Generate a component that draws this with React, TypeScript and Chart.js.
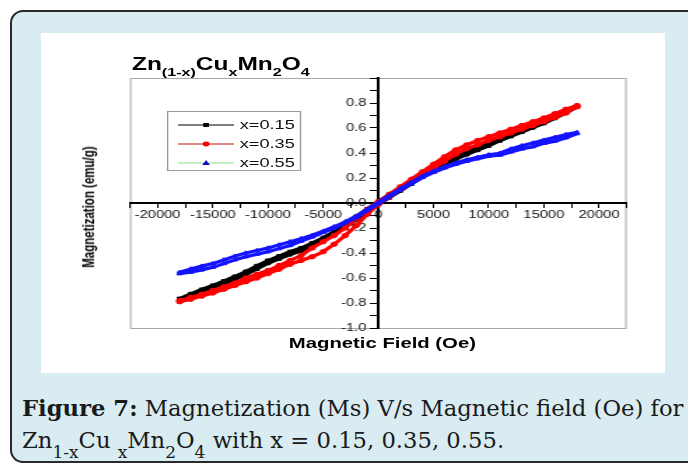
import React, { useEffect, useRef } from 'react';
import { Chart, registerables } from 'chart.js';

Chart.register(...registerables);

// ---- data ----
const seriesNames = ['x=0.15', 'x=0.35', 'x=0.55'];

// applied field, Oe: descending sweep then ascending sweep
const fieldDown = [18000, 17000, 16000, 15000, 14000, 13000, 12000, 11000, 10000, 9000, 8000, 7000, 6000, 5000, 4000, 3000, 2000, 1000, 0, -1000, -2000, -3000, -4000, -5000, -6000, -7000, -8000, -9000, -10000, -11000, -12000, -13000, -14000, -15000, -16000, -17000, -18000];
const fieldUp = [-18000, -17000, -16000, -15000, -14000, -13000, -12000, -11000, -10000, -9000, -8000, -7000, -6000, -5000, -4000, -3000, -2000, -1000, 0, 1000, 2000, 3000, 4000, 5000, 6000, 7000, 8000, 9000, 10000, 11000, 12000, 13000, 14000, 15000, 16000, 17000, 18000];

// magnetization, emu/g
const m015Down = [0.772, 0.738, 0.70, 0.662, 0.627, 0.592, 0.557, 0.522, 0.483, 0.447, 0.412, 0.372, 0.327, 0.282, 0.232, 0.177, 0.122, 0.067, 0.012, -0.048, -0.108, -0.168, -0.228, -0.278, -0.32, -0.36, -0.39, -0.425, -0.46, -0.503, -0.548, -0.588, -0.625, -0.66, -0.692, -0.727, -0.765];
const m015Up = [-0.775, -0.745, -0.71, -0.68, -0.645, -0.61, -0.572, -0.527, -0.482, -0.447, -0.412, -0.382, -0.342, -0.302, -0.252, -0.192, -0.132, -0.072, -0.012, 0.043, 0.098, 0.153, 0.208, 0.258, 0.303, 0.348, 0.388, 0.423, 0.458, 0.498, 0.533, 0.568, 0.603, 0.638, 0.678, 0.72, 0.768];

const m035Down = [0.78, 0.75, 0.715, 0.68, 0.65, 0.62, 0.59, 0.56, 0.53, 0.50, 0.465, 0.425, 0.37, 0.31, 0.25, 0.19, 0.13, 0.07, 0.01, -0.05, -0.12, -0.20, -0.26, -0.31, -0.36, -0.42, -0.46, -0.50, -0.54, -0.57, -0.60, -0.64, -0.67, -0.70, -0.73, -0.755, -0.78];
const m035Up = [-0.79, -0.77, -0.745, -0.72, -0.69, -0.66, -0.63, -0.60, -0.565, -0.53, -0.49, -0.46, -0.43, -0.39, -0.33, -0.26, -0.18, -0.09, -0.01, 0.05, 0.11, 0.17, 0.23, 0.28, 0.335, 0.39, 0.435, 0.465, 0.50, 0.53, 0.56, 0.59, 0.62, 0.65, 0.685, 0.72, 0.77];

const m055Down = [0.565, 0.548, 0.525, 0.503, 0.48, 0.458, 0.432, 0.398, 0.386, 0.366, 0.346, 0.321, 0.29, 0.255, 0.215, 0.165, 0.115, 0.06, 0.005, -0.05, -0.105, -0.15, -0.19, -0.225, -0.258, -0.285, -0.31, -0.335, -0.36, -0.38, -0.40, -0.425, -0.455, -0.485, -0.505, -0.527, -0.555];
const m055Up = [-0.565, -0.553, -0.535, -0.515, -0.485, -0.455, -0.43, -0.41, -0.39, -0.365, -0.34, -0.305, -0.272, -0.235, -0.2, -0.16, -0.115, -0.06, -0.005, 0.05, 0.105, 0.155, 0.205, 0.245, 0.28, 0.309, 0.334, 0.354, 0.374, 0.382, 0.408, 0.432, 0.45, 0.477, 0.495, 0.522, 0.555];

const xLabelValues = [-20000, -15000, -10000, -5000, 0, 5000, 10000, 15000, 20000];
const yLabelValues = [-1.0, -0.8, -0.6, -0.4, -0.2, 0.0, 0.2, 0.4, 0.6, 0.8];

// ---- styles ----
const seriesColors = ['#000000', '#ff0000', '#1414ff'];
const legendLineColors = ['#000000', '#cc1010', '#86e086'];
const pointStyles = ['rect', 'circle', 'triangle'];
const SANS = '"Liberation Sans", Arial, Helvetica, sans-serif';

const downBranches = [m015Down, m035Down, m055Down];
const upBranches = [m015Up, m035Up, m055Up];

const LOCAL_W = 446;
const LOCAL_H = 340;
const PANEL_W = 624;

const framePlugin = {
  id: 'frame',
  beforeDraw(chart: any) {
    const { ctx, chartArea } = chart;
    ctx.save();
    ctx.strokeStyle = '#a8a8a8';
    ctx.lineWidth = 1;
    ctx.strokeRect(chartArea.left + 0.5, chartArea.top + 0.5, chartArea.right - chartArea.left - 1, chartArea.bottom - chartArea.top);
    ctx.restore();
  },
};

// y-axis sits at x = 0; move its labels to the left of the tick marks
const yLabelShiftPlugin = {
  id: 'yLabelShift',
  beforeDraw(chart: any) {
    const s = chart.scales.y;
    if (!s || typeof s.getLabelItems !== 'function') return;
    const items = s.getLabelItems(chart.chartArea);
    items.forEach((it: any) => {
      if (!it.__shifted && it.options && it.options.translation) {
        it.options.translation[0] -= 8.5;
        it.__shifted = true;
      }
    });
  },
};

function LegendMarker({ i }: { i: number }) {
  const c = seriesColors[i];
  let marker;
  if (pointStyles[i] === 'rect') marker = <rect x={18} y={3} width={4} height={4} fill={c} />;
  else if (pointStyles[i] === 'circle') marker = <circle cx={20} cy={5} r={2.4} fill={c} />;
  else marker = <polygon points="20,2 22.8,7 17.2,7" fill="#1010c0" />;
  return (
    <svg width={40} height={10} style={{ position: 'absolute', left: 7, top: -5 }}>
      <line x1={0} y1={5} x2={40} y2={5} stroke={legendLineColors[i]} strokeWidth={1.2} />
      {marker}
    </svg>
  );
}

export default function App() {
  const canvasRef = useRef<HTMLCanvasElement>(null);

  useEffect(() => {
    const datasets = seriesNames.map((name, i) => ({
      label: name,
      data: fieldDown
        .map((h, k) => ({ x: h, y: downBranches[i][k] }))
        .concat(fieldUp.map((h, k) => ({ x: h, y: upBranches[i][k] }))),
      borderColor: seriesColors[i],
      backgroundColor: seriesColors[i],
      pointBackgroundColor: seriesColors[i],
      pointBorderColor: seriesColors[i],
      pointStyle: pointStyles[i] as any,
      pointRadius: 2.2,
      pointBorderWidth: 1,
      borderWidth: 3.2,
      showLine: true,
      tension: 0,
      order: 3 - i,
    }));

    const chart = new Chart(canvasRef.current!, {
      type: 'scatter',
      data: { datasets },
      plugins: [framePlugin, yLabelShiftPlugin],
      options: {
        responsive: false,
        animation: false,
        devicePixelRatio: 1,
        layout: { padding: { left: 63.6, right: 27.4, top: 45, bottom: 45 } },
        plugins: {
          legend: { display: false },
          title: { display: false },
          tooltip: { enabled: false },
        },
        scales: {
          x: {
            type: 'linear',
            min: -22500,
            max: 22500,
            position: { y: 0 } as any,
            grid: { drawOnChartArea: false, drawTicks: true, tickLength: 4, tickColor: '#000', tickWidth: 1 },
            border: { display: true, color: '#000', width: 2 },
            ticks: {
              stepSize: 2500,
              autoSkip: false,
              maxRotation: 0,
              minRotation: 0,
              padding: 1.5,
              color: '#111',
              font: { family: SANS, size: 10.5 },
              callback: (v: any) => (xLabelValues.includes(Number(v)) ? String(v) : ''),
            },
          },
          y: {
            type: 'linear',
            min: -1,
            max: 1,
            position: { x: 0 } as any,
            grid: { drawOnChartArea: false, drawTicks: true, tickLength: 5, tickColor: '#000', tickWidth: 1 },
            border: { display: true, color: '#000', width: 2 },
            ticks: {
              stepSize: 0.1,
              autoSkip: false,
              padding: 3.5,
              color: '#111',
              font: { family: SANS, size: 10.5 },
              callback: (v: any) => {
                const t = yLabelValues.find((u) => Math.abs(u - Number(v)) < 1e-6);
                return t === undefined ? '' : t.toFixed(1);
              },
            },
          },
        },
      },
    });
    return () => chart.destroy();
  }, []);

  const sub = (t: string, size: number, drop: number) => (
    <span style={{ fontSize: size, position: 'relative', top: drop, lineHeight: 0 }}>{t}</span>
  );

  return (
    <div style={{ position: 'absolute', left: 0, top: 0, width: 688, height: 463, overflow: 'hidden', background: '#ffffff' }}>
      <div
        style={{
          position: 'absolute',
          left: 10,
          top: 10,
          width: 720,
          height: 449,
          border: '2px solid #2a2a2a',
          borderRadius: 13,
          background: '#d8ecf1',
        }}
      />
      <div style={{ position: 'absolute', left: 41, top: 33, width: PANEL_W, height: LOCAL_H, background: '#ffffff', overflow: 'hidden' }}>
        <div
          style={{
            position: 'absolute',
            left: 0,
            top: 0,
            width: LOCAL_W,
            height: LOCAL_H,
            transform: `scaleX(${PANEL_W / LOCAL_W})`,
            transformOrigin: '0 0',
          }}
        >
          <canvas ref={canvasRef} width={LOCAL_W} height={LOCAL_H} style={{ position: 'absolute', left: 0, top: 0 }} />
          {/* chart title */}
          <div style={{ position: 'absolute', left: 65, top: 21, font: `bold 17.5px ${SANS}`, lineHeight: '20px', whiteSpace: 'nowrap', color: '#000' }}>
            Zn{sub('(1-x)', 11.5, 6)}Cu{sub('x', 11.5, 6)}Mn{sub('2', 11.5, 6)}O{sub('4', 11.5, 6)}
          </div>
          {/* y axis title */}
          <div
            style={{
              position: 'absolute',
              left: 33.6,
              top: 174,
              transform: 'translate(-50%, -50%) rotate(-90deg)',
              font: `bold 11.5px ${SANS}`,
              whiteSpace: 'nowrap',
              color: '#000',
            }}
          >
            Magnetization (emu/g)
          </div>
          {/* x axis title */}
          <div
            style={{
              position: 'absolute',
              left: 244,
              top: 302,
              transform: 'translateX(-50%)',
              font: `bold 14.5px ${SANS}`,
              lineHeight: '16px',
              whiteSpace: 'nowrap',
              color: '#000',
            }}
          >
            Magnetic Field (Oe)
          </div>
          {/* legend */}
          <div
            style={{
              position: 'absolute',
              left: 90,
              top: 78,
              width: 96,
              height: 60,
              boxSizing: 'border-box',
              border: '1px solid #9a9a9a',
              background: '#ffffff',
            }}
          >
            {seriesNames.map((name, i) => (
              <div key={name} style={{ position: 'absolute', left: 0, top: 13 + i * 19, width: '100%', height: 0 }}>
                <LegendMarker i={i} />
                <div
                  style={{
                    position: 'absolute',
                    left: 51,
                    top: -8,
                    font: `13px ${SANS}`,
                    lineHeight: '16px',
                    whiteSpace: 'nowrap',
                    color: '#111',
                  }}
                >
                  {name}
                </div>
              </div>
            ))}
          </div>
        </div>
      </div>
      {/* caption */}
      <div
        style={{
          position: 'absolute',
          left: 22,
          top: 392,
          font: `22.7px "DejaVu Serif", serif`,
          lineHeight: '32px',
          whiteSpace: 'nowrap',
          color: '#1a1a1a',
        }}
      >
        <div>
          <b>Figure 7:</b> Magnetization (Ms) V/s Magnetic field (Oe) for
        </div>
        <div>
          Zn{sub('1-x', 17, 10)}Cu {sub('x', 17, 10)}Mn{sub('2', 17, 10)}O{sub('4', 17, 10)} with x = 0.15, 0.35, 0.55.
        </div>
      </div>
    </div>
  );
}
